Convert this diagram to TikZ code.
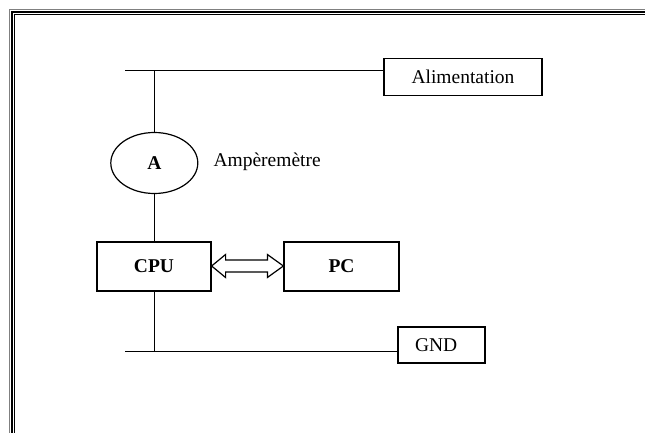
\documentclass[tikz,border=0pt]{standalone}
\usepackage{fontspec}
\setmainfont{Liberation Serif}
\usetikzlibrary{shapes.geometric,calc}
\begin{document}
\begin{tikzpicture}[x=1pt,y=-1pt,
  box/.style={draw,line width=1.2pt,rectangle,inner sep=0pt,font=\fontsize{19.5}{23}\selectfont},
  wire/.style={line width=1.2pt},
  every node/.style={font=\fontsize{19.5}{23}\selectfont}]
\useasboundingbox (0,0) rectangle (645,433);
\clip (0,0) rectangle (645,433);
\fill[white] (0,0) rectangle (645,433);
% frame
\draw[gray,line width=0.8pt] (9.6,700) -- (9.6,9.6) -- (700,9.6);
\draw[black,line width=1.6pt] (11.8,700) -- (11.8,11.8) -- (700,11.8);
\draw[black,line width=1.1pt] (14.3,700) -- (14.3,14.3) -- (700,14.3);
% nodes
\node[box,minimum width=158,minimum height=37] (alim) at (463,77.3) {Alimentation};
\node[draw,line width=1.2pt,ellipse,minimum width=87,minimum height=61,inner sep=0pt,font=\fontsize{19.5}{23}\selectfont\bfseries] (amp) at (154.3,163) {A};
\node[anchor=west] (ampl) at (210,161.5) {Ampèremètre};
\node[box,minimum width=114,minimum height=49,font=\fontsize{19.5}{23}\selectfont\bfseries] (cpu) at (154,266.5) {CPU};
\node[box,minimum width=115,minimum height=49,font=\fontsize{19.5}{23}\selectfont\bfseries] (pc) at (341.5,266.5) {PC};
\node[box,minimum width=87,minimum height=36,text width=53pt,align=left,inner xsep=17pt] (gnd) at (441.5,345) {GND};
% wiring
\coordinate (t0) at (125,70.7);
\coordinate (tj) at (154.3,70.7);
\coordinate (b0) at (125,351.7);
\coordinate (bj) at (154.3,351.7);
\draw[wire] (t0) -- (t0 -| alim.west);
\draw[wire] (tj) -- (amp.north);
\draw[wire] (amp.south) -- (amp.south |- cpu.north);
\draw[wire] (cpu.south -| amp.south) -- (bj);
\draw[wire] (b0) -- (b0 -| gnd.west);
% hollow double arrow
\coordinate (la) at ($(cpu.east)+(0,-0.5)$);
\coordinate (ra) at ($(pc.west)+(0,-0.5)$);
\draw[line width=1.2pt,fill=white,line join=miter]
  (la) -- ($(la)+(14,-11.5)$) -- ($(la)+(14,-6)$) -- ($(ra)+(-16,-6)$) -- ($(ra)+(-16,-11.5)$)
  -- (ra) -- ($(ra)+(-16,11.5)$) -- ($(ra)+(-16,6)$) -- ($(la)+(14,6)$) -- ($(la)+(14,11.5)$) -- cycle;
\end{tikzpicture}
\end{document}
